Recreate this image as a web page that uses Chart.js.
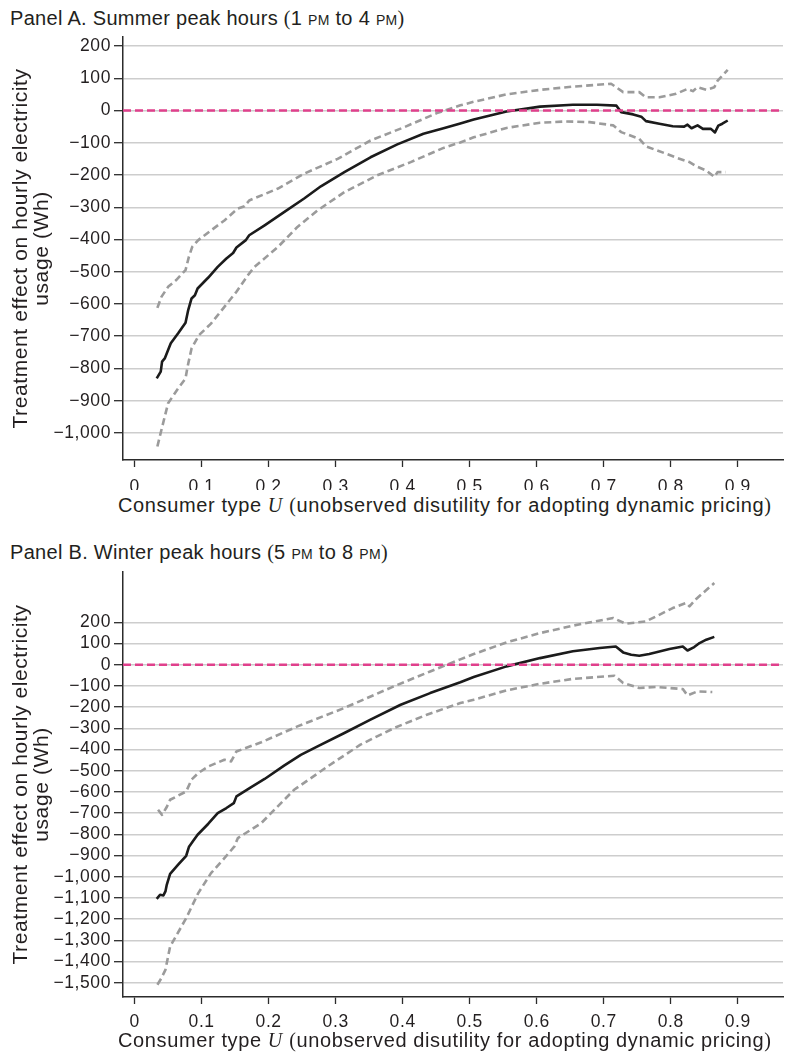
<!DOCTYPE html>
<html><head><meta charset="utf-8">
<script src="https://cdn.jsdelivr.net/npm/chart.js@4/dist/chart.umd.min.js"></script>
<style>
body{margin:0;background:#fff;width:787px;height:1056px;position:relative;overflow:hidden;font-family:"Liberation Sans",Arial,sans-serif;color:#231f20}
.ptitle{position:absolute;left:10px;font-size:20px;letter-spacing:0.3px;white-space:nowrap;line-height:1}
.xtitle{position:absolute;left:118px;font-size:20px;letter-spacing:0.62px;white-space:nowrap;line-height:1}
.serif{font-family:"Liberation Serif","Times New Roman",serif}
.sc{font-variant:small-caps}
.it{font-family:"Liberation Serif",serif;font-style:italic}
canvas{position:absolute;left:0}
</style></head>
<body>
<div class="ptitle" style="top:8px">Panel A. Summer peak hours <span class="serif">(</span>1 <span class="sc">pm</span> to 4 <span class="sc">pm</span><span class="serif">)</span></div>
<canvas id="ca" width="787" height="460" style="top:30px"></canvas>
<div class="xtitle" style="top:495px">Consumer type <span class="it">U</span> <span class="serif">(</span>unobserved disutility for adopting dynamic pricing<span class="serif">)</span></div>

<div class="ptitle" style="top:542px">Panel B. Winter peak hours <span class="serif">(</span>5 <span class="sc">pm</span> to 8 <span class="sc">pm</span><span class="serif">)</span></div>
<canvas id="cb" width="787" height="465" style="top:565px"></canvas>
<div class="xtitle" style="top:1030px">Consumer type <span class="it">U</span> <span class="serif">(</span>unobserved disutility for adopting dynamic pricing<span class="serif">)</span></div>

<script>
// ---------- tick labels ----------
const xTicks = [0, 0.1, 0.2, 0.3, 0.4, 0.5, 0.6, 0.7, 0.8, 0.9];
const yTicksA = [200, 100, 0, -100, -200, -300, -400, -500, -600, -700, -800, -900, -1000];
const yTicksB = [200, 100, 0, -100, -200, -300, -400, -500, -600, -700, -800, -900, -1000, -1100, -1200, -1300, -1400, -1500];
const yTitle = ['Treatment effect on hourly electricity', 'usage (Wh)'];
const zeroRef = 0;

// ---------- Panel A: summer peak ----------
const A_est_u = [0.033,0.039,0.041,0.045,0.050,0.054,0.065,0.076,0.080,0.085,0.090,0.094,0.110,0.124,0.137,0.147,0.152,0.166,0.171,0.194,0.223,0.253,0.278,0.313,0.352,0.392,0.431,0.461,0.486,0.506,0.555,0.605,0.654,0.690,0.719,0.726,0.744,0.756,0.763,0.783,0.803,0.820,0.825,0.831,0.840,0.848,0.860,0.866,0.871,0.877,0.885];
const A_est_v = [-831,-810,-779,-769,-743,-722,-691,-658,-619,-583,-573,-552,-518,-485,-459,-442,-425,-402,-387,-356,-315,-273,-235,-191,-145,-105,-72,-55,-40,-28,-3,12,18,18,15,-5,-12,-19,-33,-41,-49,-50,-44,-55,-46,-57,-57,-68,-47,-41,-31];
const A_hi_u = [0.034,0.040,0.050,0.062,0.076,0.081,0.086,0.095,0.114,0.134,0.154,0.164,0.171,0.214,0.253,0.303,0.352,0.402,0.451,0.486,0.506,0.555,0.605,0.654,0.711,0.729,0.753,0.763,0.783,0.808,0.825,0.833,0.840,0.853,0.865,0.870,0.885];
const A_hi_v = [-612,-578,-547,-526,-495,-454,-423,-402,-372,-341,-304,-297,-279,-242,-196,-150,-93,-52,-8,16,27,50,64,74,83,57,57,41,41,52,67,60,72,64,72,93,126];
const A_lo_u = [0.034,0.040,0.050,0.065,0.076,0.079,0.085,0.096,0.114,0.134,0.152,0.169,0.179,0.214,0.243,0.273,0.313,0.362,0.412,0.461,0.486,0.506,0.555,0.605,0.644,0.679,0.714,0.726,0.753,0.763,0.793,0.808,0.828,0.838,0.853,0.865,0.870,0.882];
const A_lo_v = [-1042,-991,-908,-862,-831,-795,-738,-697,-661,-609,-562,-511,-485,-423,-361,-310,-253,-201,-160,-116,-99,-83,-54,-38,-34,-36,-46,-67,-88,-111,-134,-146,-160,-173,-186,-206,-191,-191];

// ---------- Panel B: winter peak ----------
const B_est_u = [0.033,0.038,0.043,0.046,0.048,0.053,0.065,0.077,0.081,0.087,0.094,0.110,0.124,0.137,0.148,0.152,0.174,0.194,0.223,0.248,0.273,0.313,0.352,0.397,0.441,0.486,0.506,0.555,0.605,0.654,0.694,0.718,0.729,0.741,0.753,0.768,0.798,0.818,0.825,0.835,0.843,0.853,0.865];
const B_est_v = [-1104,-1085,-1088,-1069,-1038,-986,-943,-901,-860,-833,-802,-750,-700,-676,-653,-621,-577,-539,-476,-425,-385,-322,-259,-189,-134,-83,-58,-8,31,63,79,86,58,47,42,50,74,86,67,83,102,118,131];
const B_hi_u = [0.035,0.041,0.048,0.053,0.077,0.085,0.095,0.110,0.134,0.144,0.152,0.189,0.243,0.313,0.387,0.441,0.486,0.506,0.555,0.605,0.654,0.714,0.733,0.763,0.803,0.823,0.828,0.838,0.865];
const B_hi_v = [-684,-708,-671,-637,-598,-542,-511,-480,-448,-456,-409,-366,-291,-204,-102,-32,25,50,105,149,184,220,193,204,267,291,275,310,385];
const B_lo_u = [0.034,0.040,0.046,0.053,0.077,0.095,0.114,0.134,0.149,0.154,0.189,0.238,0.288,0.337,0.387,0.436,0.486,0.506,0.555,0.605,0.654,0.716,0.729,0.753,0.778,0.818,0.825,0.840,0.862];
const B_lo_v = [-1509,-1478,-1439,-1329,-1195,-1077,-983,-912,-857,-818,-747,-590,-480,-377,-299,-236,-181,-165,-121,-90,-67,-52,-86,-110,-105,-115,-145,-126,-129];

// ---------- axis ranges ----------
const xMin = -0.0173, xMax = 0.9675;
const yRangeA = [-1084, 228];
const yRangeB = [-1567, 437];

const FONT = '"Liberation Sans", Arial, sans-serif';
const TXT = '#231f20';
const AX = '#2b2b2b';

function pts(u, v) { return u.map((x, i) => ({x: x, y: v[i]})); }
function fmtY(v) { return (v < 0 ? '\u2212' : '') + Math.abs(v).toLocaleString('en-US'); }
function fmtX(v) { return v === 0 ? '0' : v.toFixed(1); }

const spacingPlugin = {
  id: 'spacing',
  beforeDraw(chart) { try { chart.ctx.letterSpacing = '0.6px'; } catch (e) {} },
  afterDraw(chart) { try { chart.ctx.letterSpacing = '0px'; } catch (e) {} }
};

function makeChart(id, est_u, est_v, hi_u, hi_v, lo_u, lo_v, yTicks, yRange, xAxisH, xPad) {
  const lineDs = (data, color, dash, w) => ({
    data: data, borderColor: color, borderWidth: w, borderDash: dash,
    pointRadius: 0, tension: 0, fill: false, borderCapStyle: 'butt', borderJoinStyle: 'round'
  });
  return new Chart(document.getElementById(id), {
    type: 'line',
    plugins: [spacingPlugin],
    data: { datasets: [
      lineDs([{x: xMin, y: zeroRef}, {x: xMax, y: zeroRef}], '#e0408c', [8, 4], 2.6),
      lineDs(pts(hi_u, hi_v), '#9b9b9b', [7, 4], 2.6),
      lineDs(pts(lo_u, lo_v), '#9b9b9b', [7, 4], 2.6),
      lineDs(pts(est_u, est_v), '#1b1b1b', [], 2.6)
    ]},
    options: {
      responsive: false, animation: false, devicePixelRatio: 1,
      layout: { padding: { top: 7, right: 4, left: 0, bottom: 0 } },
      plugins: { legend: { display: false }, tooltip: { enabled: false } },
      scales: {
        x: {
          type: 'linear', min: xMin, max: xMax,
          afterBuildTicks: s => { s.ticks = xTicks.map(v => ({value: v})); },
          afterFit: s => { s.height = xAxisH; s.paddingLeft = 0; s.paddingRight = 0; },
          grid: { drawOnChartArea: false, drawTicks: true, tickLength: 7, tickColor: AX, tickWidth: 1.3 },
          border: { display: true, color: AX, width: 1.5 },
          ticks: { font: { family: FONT, size: 17.5 }, color: TXT, padding: xPad, maxRotation: 0, autoSkip: false, callback: v => fmtX(v) }
        },
        y: {
          type: 'linear', min: yRange[0], max: yRange[1],
          afterBuildTicks: s => { s.ticks = yTicks.map(v => ({value: v})); },
          afterFit: s => { s.width = 123; s.paddingTop = 0; s.paddingBottom = 0; },
          grid: { color: '#cdcdcd', lineWidth: 1.4, drawTicks: true, tickLength: 9, tickColor: AX, tickWidth: 1.3 },
          border: { display: true, color: AX, width: 1.5 },
          ticks: { font: { family: FONT, size: 17.5 }, color: TXT, padding: 3, autoSkip: false, callback: v => fmtY(v) },
          title: { display: true, text: yTitle, color: TXT, font: { family: FONT, size: 21, lineHeight: 1.0 }, padding: { top: 10.5, bottom: 0 } }
        }
      }
    }
  });
}

makeChart('ca', A_est_u, A_est_v, A_hi_u, A_hi_v, A_lo_u, A_lo_v, yTicksA, yRangeA, 30, 9.5);
makeChart('cb', B_est_u, B_est_v, B_hi_u, B_hi_v, B_lo_u, B_lo_v, yTicksB, yRangeB, 33, 7.5);
</script>
</body></html>
